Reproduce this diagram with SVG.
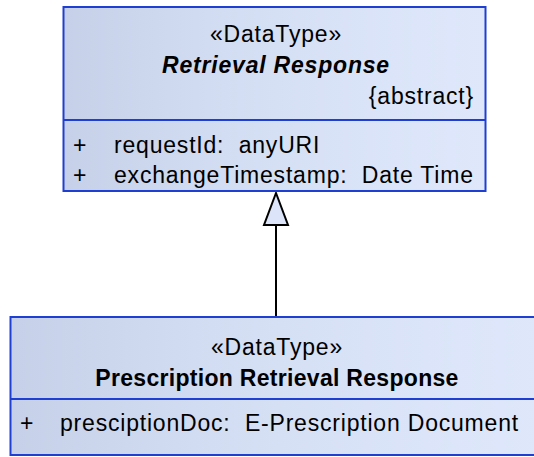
<svg xmlns="http://www.w3.org/2000/svg" width="534" height="457" viewBox="0 0 534 457">
<defs>
<linearGradient id="fill" x1="0" y1="0" x2="1" y2="0">
<stop offset="0" stop-color="#c6d1e9"/>
<stop offset="0.5" stop-color="#d6e0f5"/>
<stop offset="1" stop-color="#dfe8fb"/>
</linearGradient>
<style>
.box{fill:url(#fill);stroke:#1e3fd2;stroke-width:2}
.div{stroke:#1e3fd2;stroke-width:2}
text{font-family:"Liberation Sans",Arial,sans-serif;font-size:23px;fill:#000;letter-spacing:0.8px;white-space:pre}
.c{text-anchor:middle}
.b{font-weight:bold}
.i{font-style:italic}
.tight{letter-spacing:0.3px}
.edge{stroke:#000;stroke-width:2;fill:none}
.tri{stroke:#000;stroke-width:2;fill:#dbe4f8}
</style>
</defs>
<g id="connectors">
<line class="edge" x1="276" y1="317" x2="276" y2="225"/>
<polygon class="tri" points="276,193 264,225 288,225"/>
</g>
<g id="retrieval-response">
<rect class="box" x="63.5" y="7" width="422" height="184"/>
<line class="div" x1="63.5" y1="120" x2="485.5" y2="120"/>
<text class="c" x="276" y="42">«DataType»</text>
<text class="c b i" x="276" y="73">Retrieval Response</text>
<text x="474" y="104" text-anchor="end">{abstract}</text>
<text x="73" y="153">+</text>
<text x="114" y="153" xml:space="preserve">requestId:  anyURI</text>
<text x="73" y="183">+</text>
<text x="114" y="183" xml:space="preserve">exchangeTimestamp:  Date Time</text>
</g>
<g id="prescription-retrieval-response">
<rect class="box" x="10.5" y="317" width="534" height="138"/>
<line class="div" x1="10.5" y1="399" x2="544.5" y2="399"/>
<text class="c" x="277" y="355">«DataType»</text>
<text class="c b tight" x="277" y="386">Prescription Retrieval Response</text>
<text x="20" y="431">+</text>
<text x="60" y="431" xml:space="preserve">presciptionDoc:  E-Prescription Document</text>
</g>
</svg>
